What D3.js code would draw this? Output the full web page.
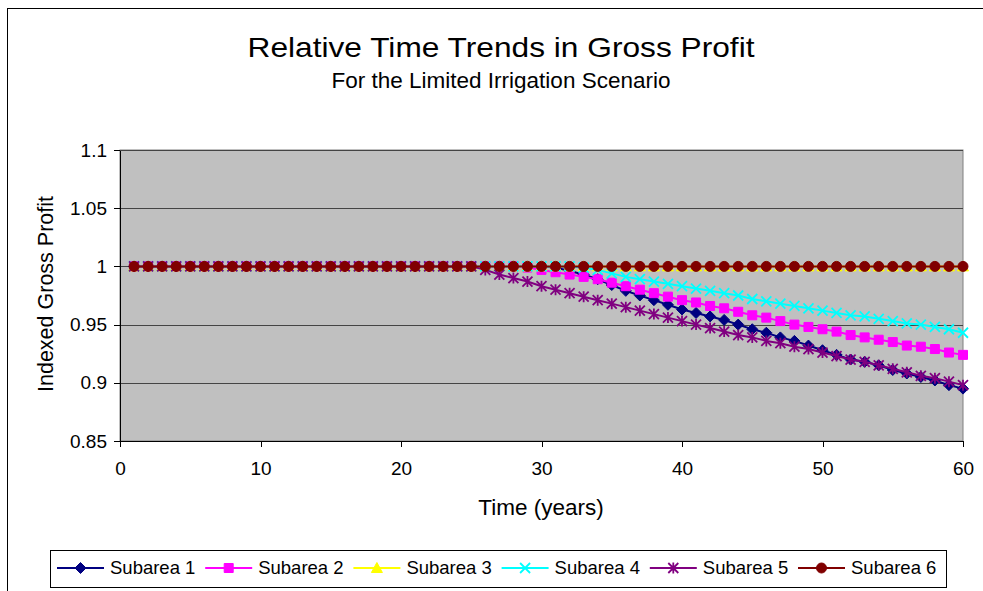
<!DOCTYPE html>
<html>
<head>
  <meta charset="utf-8">
  <title>Relative Time Trends in Gross Profit</title>
  <style>
    body { margin: 0; background: #fff; }
    svg text { font-family: "Liberation Sans", Arial, sans-serif; fill: #000; }
    .tick text { font-size: 19px; }
    .axis path, .axis line { stroke: #000; shape-rendering: crispEdges; }
    .grid line { stroke: #444; shape-rendering: crispEdges; }
  </style>
</head>
<body>
  <svg id="canvas" width="983" height="591"></svg>
  <script src="https://d3js.org/d3.v7.min.js"></script>
  <script>

    const years = [1,2,3,4,5,6,7,8,9,10,11,12,13,14,15,16,17,18,19,20,21,22,23,24,25,26,27,28,29,30,
      31,32,33,34,35,36,37,38,39,40,41,42,43,44,45,46,47,48,49,50,51,52,53,54,55,56,57,58,59,60];

    const subarea1 = [1,1,1,1,1,1,1,1,1,1,1,1,1,1,1,1,1,1,1,1,1,1,1,1,1,1,1,1,1,1,
      0.999,0.996,0.993,0.989,0.984,0.979,0.975,0.971,0.967,0.963,0.960,0.957,0.954,0.950,0.946,
      0.943,0.939,0.936,0.932,0.928,0.924,0.920,0.918,0.915,0.911,0.908,0.905,0.902,0.898,0.895];
    const subarea2 = [1,1,1,1,1,1,1,1,1,1,1,1,1,1,1,1,1,1,1,1,1,1,1,1,1,1,1,1,
      0.999,0.997,0.995,0.993,0.991,0.989,0.986,0.983,0.980,0.977,0.974,0.971,0.969,0.966,0.964,0.961,
      0.958,0.956,0.953,0.950,0.948,0.946,0.944,0.941,0.939,0.937,0.935,0.932,0.931,0.929,0.926,0.924];
    const subarea3 = [1,1,1,1,1,1,1,1,1,1,1,1,1,1,1,1,1,1,1,1,1,1,1,1,1,1,1,1,1,1,
      1,1,1,1,1,1,1,1,1,1,1,1,1,1,1,1,1,1,1,1,1,1,1,1,1,1,1,1,1,1];
    const subarea4 = [1,1,1,1,1,1,1,1,1,1,1,1,1,1,1,1,1,1,1,1,1,1,1,1,1,1,1,1,1,1,1,1,
      0.999,0.997,0.994,0.991,0.989,0.987,0.985,0.983,0.981,0.979,0.977,0.975,0.972,0.970,
      0.968,0.966,0.964,0.962,0.960,0.958,0.957,0.955,0.953,0.951,0.950,0.948,0.946,0.943];
    const subarea5 = [1,1,1,1,1,1,1,1,1,1,1,1,1,1,1,1,1,1,1,1,1,1,1,1,1,
      0.997,0.993,0.990,0.987,0.983,0.980,0.977,0.974,0.971,0.968,0.965,0.962,0.959,0.956,0.953,
      0.950,0.947,0.944,0.941,0.939,0.936,0.934,0.931,0.929,0.926,0.923,0.920,0.918,0.915,0.912,
      0.909,0.906,0.904,0.901,0.898];
    const subarea6 = [1,1,1,1,1,1,1,1,1,1,1,1,1,1,1,1,1,1,1,1,1,1,1,1,1,1,1,1,1,1,
      1,1,1,1,1,1,1,1,1,1,1,1,1,1,1,1,1,1,1,1,1,1,1,1,1,1,1,1,1,1];

    const seriesNames = ["Subarea 1", "Subarea 2", "Subarea 3", "Subarea 4", "Subarea 5", "Subarea 6"];
    const seriesValues = [subarea1, subarea2, subarea3, subarea4, subarea5, subarea6];
    const xTicks = [0, 10, 20, 30, 40, 50, 60];
    const yTicks = [0.85, 0.9, 0.95, 1, 1.05, 1.1];

    // styles, one per series
    const colors = ["#000080", "#ff00ff", "#ffff00", "#00ffff", "#800080", "#800000"];
    const markers = ["diamond", "square", "triangle", "x", "star", "circle"];

    const marker_path = (type) => {
      const p = d3.path();
      if (type == "diamond") { p.moveTo(0, -5.5); p.lineTo(5.5, 0); p.lineTo(0, 5.5); p.lineTo(-5.5, 0); p.closePath(); }
      else if (type == "square") { p.rect(-4.5, -4.5, 9, 9); }
      else if (type == "triangle") { p.moveTo(0, -5.5); p.lineTo(5.5, 4.5); p.lineTo(-5.5, 4.5); p.closePath(); }
      else if (type == "x") { p.moveTo(-5, -5); p.lineTo(5, 5); p.moveTo(5, -5); p.lineTo(-5, 5); }
      else if (type == "star") {
        p.moveTo(-5, -5); p.lineTo(5, 5); p.moveTo(5, -5); p.lineTo(-5, 5);
        p.moveTo(0, -5.5); p.lineTo(0, 5.5);
      }
      else if (type == "circle") { p.arc(0, 0, 5, 0, 2 * Math.PI); }
      return p.toString();
    };
    const is_stroke = type => type == "x" || type == "star";

    const dims = { left: 120, right: 963, top: 150, bottom: 441 };

    const svg = d3.select("svg#canvas");

    // outer chart frame
    svg.append("rect")
      .attr("x", 7.5).attr("y", 8.5)
      .attr("width", 990).attr("height", 600)
      .attr("fill", "#fff").attr("stroke", "#000");

    const x = d3.scaleLinear().domain([0, 60]).range([dims.left, dims.right]);
    const y = d3.scaleLinear().domain([0.85, 1.1]).range([dims.bottom, dims.top]);

    svg.append("rect")
      .attr("x", dims.left).attr("y", dims.top)
      .attr("width", dims.right - dims.left).attr("height", dims.bottom - dims.top)
      .attr("fill", "#c0c0c0").attr("stroke", "#808080");

    svg.append("g")
      .attr("class", "grid")
      .selectAll("line")
      .data(yTicks.filter(t => t > 0.85))
      .enter().append("line")
      .attr("x1", dims.left).attr("x2", dims.right)
      .attr("y1", t => Math.round(y(t)) + 0.5).attr("y2", t => Math.round(y(t)) + 0.5);

    svg.append("g")
      .attr("class", "axis")
      .attr("transform", "translate(0," + dims.bottom + ")")
      .call(d3.axisBottom(x).tickValues(xTicks).tickSize(6).tickPadding(15).tickSizeOuter(0))
      .call(g => g.selectAll("text").attr("font-family", null).attr("font-size", null));

    svg.append("g")
      .attr("class", "axis")
      .attr("transform", "translate(" + dims.left + ",0)")
      .call(d3.axisLeft(y).tickValues(yTicks).tickFormat(d3.format("")).tickSize(6).tickPadding(7).tickSizeOuter(0))
      .call(g => g.selectAll("text").attr("font-family", null).attr("font-size", null));

    const line = d3.line()
      .x((_, i) => x(years[i]))
      .y(v => y(v));

    const plot = svg.append("g");

    seriesValues.forEach((vals, k) => {
      const g = plot.append("g");
      g.append("path")
        .datum(vals)
        .attr("d", line)
        .attr("fill", "none")
        .attr("stroke", colors[k])
        .attr("stroke-width", 2);
      g.selectAll(".pt")
        .data(vals)
        .enter().append("path")
        .attr("class", "pt")
        .attr("transform", (v, i) => "translate(" + x(years[i]) + "," + y(v) + ")")
        .attr("d", marker_path(markers[k]))
        .attr("fill", is_stroke(markers[k]) ? "none" : colors[k])
        .attr("stroke", colors[k])
        .attr("stroke-width", is_stroke(markers[k]) ? 1.8 : 1);
    });

    svg.append("text")
      .attr("x", 501).attr("y", 57)
      .attr("text-anchor", "middle")
      .attr("font-size", 28)
      .attr("textLength", 507)
      .attr("lengthAdjust", "spacingAndGlyphs")
      .text("Relative Time Trends in Gross Profit");

    svg.append("text")
      .attr("x", 501).attr("y", 88)
      .attr("text-anchor", "middle")
      .attr("font-size", 22.5)
      .text("For the Limited Irrigation Scenario");

    svg.append("text")
      .attr("transform", "translate(53,294)rotate(-90)")
      .attr("text-anchor", "middle")
      .attr("font-size", 21.5)
      .text("Indexed Gross Profit");

    svg.append("text")
      .attr("x", 541).attr("y", 515)
      .attr("text-anchor", "middle")
      .attr("font-size", 22.5)
      .text("Time (years)");

    // legend
    const legend = svg.append("g");
    legend.append("rect")
      .attr("x", 50.5).attr("y", 550.5)
      .attr("width", 896).attr("height", 37)
      .attr("fill", "#fff").attr("stroke", "#000");

    const item = legend.selectAll(".item")
      .data(seriesNames)
      .enter().append("g")
      .attr("class", "item")
      .attr("transform", (_, i) => "translate(" + (57 + i * 148.2) + ",568)");

    item.append("line")
      .attr("x1", 0).attr("x2", 47)
      .attr("stroke", (_, i) => colors[i])
      .attr("stroke-width", 2);
    item.append("path")
      .attr("transform", "translate(23.5,0)")
      .attr("d", (_, i) => marker_path(markers[i]))
      .attr("fill", (_, i) => is_stroke(markers[i]) ? "none" : colors[i])
      .attr("stroke", (_, i) => colors[i])
      .attr("stroke-width", (_, i) => is_stroke(markers[i]) ? 1.8 : 1);
    item.append("text")
      .attr("x", 53).attr("y", 6)
      .attr("font-size", 18.5)
      .text(n => n);

  </script>
</body>
</html>
